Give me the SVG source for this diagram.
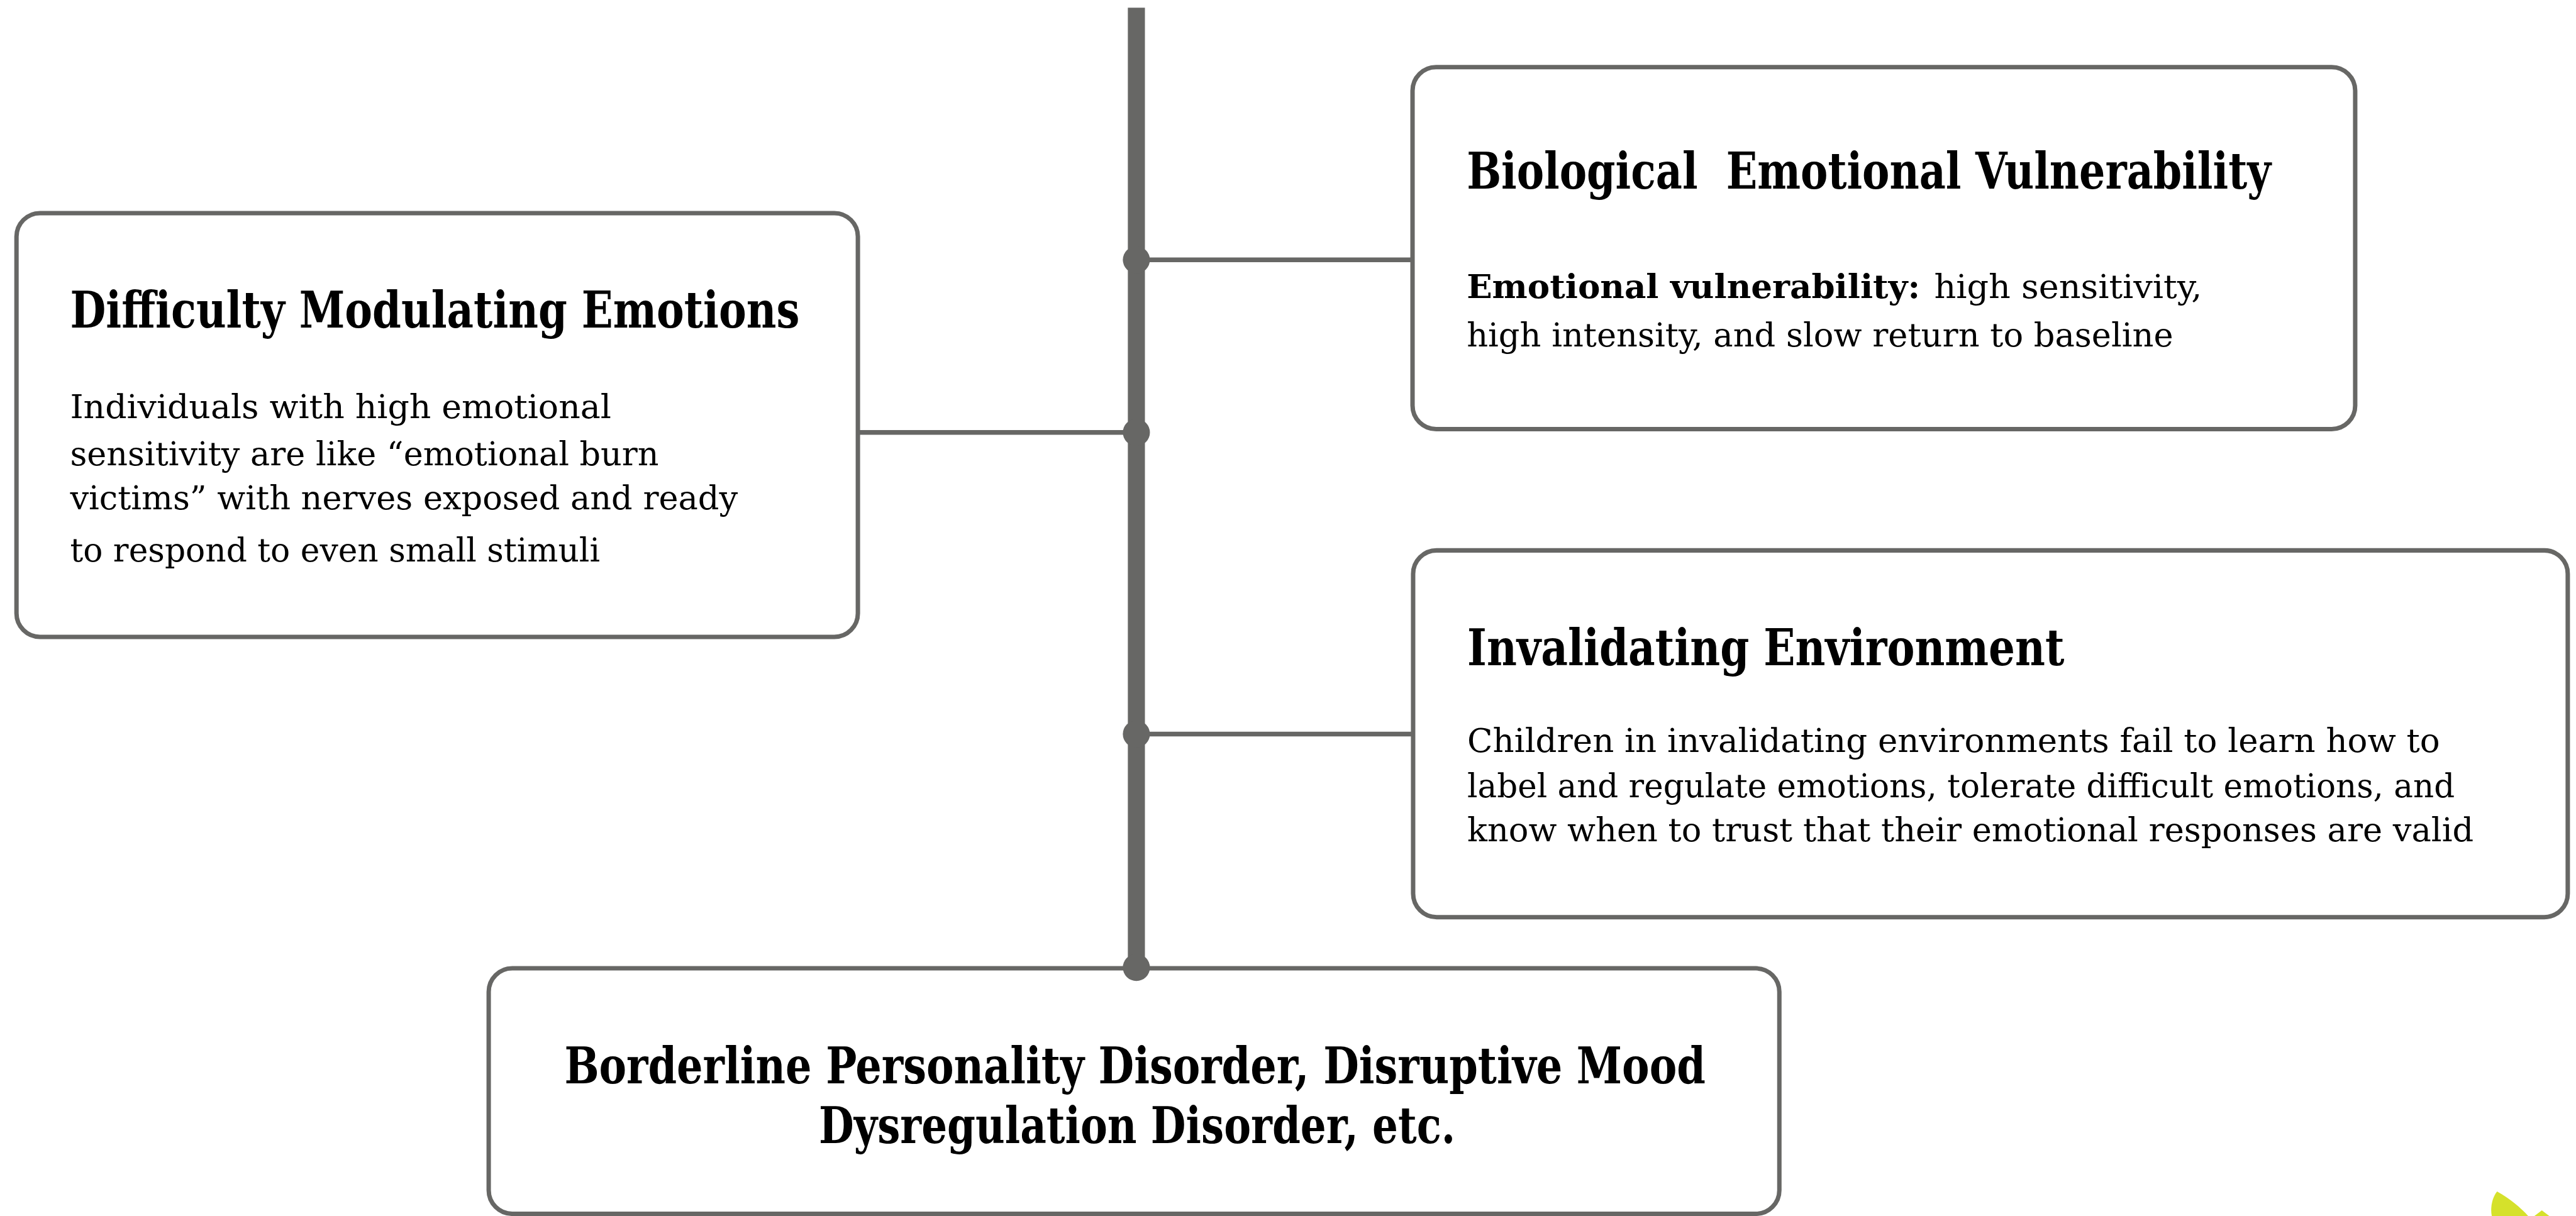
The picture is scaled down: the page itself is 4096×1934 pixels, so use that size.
<svg xmlns="http://www.w3.org/2000/svg" width="4096" height="1934" viewBox="0 0 4096 1934">
<style>
.box{fill:#ffffff;stroke:#676765;stroke-width:7.5}
.ln{stroke:#676765;stroke-width:8;fill:none}
.bar{stroke:#676765;stroke-width:29;fill:none;stroke-linecap:butt}
.dot{fill:#676765}
.t{font-family:"DejaVu Serif","Liberation Serif",serif;font-weight:bold;font-size:85px;font-stretch:condensed;fill:#000000}
.b{font-family:"DejaVu Serif","Liberation Serif",serif;font-size:55px;font-stretch:condensed;fill:#000000}
.bb{font-weight:bold}
.leaf{fill:#d5e12b}
</style>
<rect width="4096" height="1934" fill="#ffffff"/>
<g transform="scale(0.936229)">
<g id="node-difficulty">
<rect class="box" x="28" y="362" width="1429" height="720" rx="40"/>
<text class="t" x="119" y="557" textLength="1239" lengthAdjust="spacingAndGlyphs">Difficulty Modulating Emotions</text>
<text class="b" x="119" y="710.5" textLength="919" lengthAdjust="spacingAndGlyphs">Individuals with high emotional</text>
<text class="b" x="119" y="790" textLength="1000" lengthAdjust="spacingAndGlyphs">sensitivity are like “emotional burn</text>
<text class="b" x="119" y="865" textLength="1134" lengthAdjust="spacingAndGlyphs">victims” with nerves exposed and ready</text>
<text class="b" x="119" y="954" textLength="900" lengthAdjust="spacingAndGlyphs">to respond to even small stimuli</text>
</g>
<g id="node-biological">
<rect class="box" x="2399" y="114" width="1601" height="615" rx="40"/>
<text class="t" x="2491" y="320.5" textLength="1366" lengthAdjust="spacingAndGlyphs" xml:space="preserve">Biological  Emotional Vulnerability</text>
<text class="b bb" x="2491" y="506.5" textLength="770" lengthAdjust="spacingAndGlyphs">Emotional vulnerability:</text>
<text class="b" x="3285" y="506.5" textLength="455" lengthAdjust="spacingAndGlyphs">high sensitivity,</text>
<text class="b" x="2491" y="588.5" textLength="1200" lengthAdjust="spacingAndGlyphs">high intensity, and slow return to baseline</text>
</g>
<g id="node-invalidating">
<rect class="box" x="2400" y="935" width="1961" height="623" rx="40"/>
<text class="t" x="2492" y="1130.5" textLength="1014" lengthAdjust="spacingAndGlyphs">Invalidating Environment</text>
<text class="b" x="2492" y="1277.5" textLength="1652" lengthAdjust="spacingAndGlyphs">Children in invalidating environments fail to learn how to</text>
<text class="b" x="2492" y="1354.5" textLength="1677" lengthAdjust="spacingAndGlyphs">label and regulate emotions, tolerate difficult emotions, and</text>
<text class="b" x="2492" y="1429" textLength="1709" lengthAdjust="spacingAndGlyphs">know when to trust that their emotional responses are valid</text>
</g>
<g id="node-borderline">
<rect class="box" x="830" y="1645" width="2192" height="417" rx="40"/>
<text class="t" x="958.5" y="1840" textLength="1938" lengthAdjust="spacingAndGlyphs">Borderline Personality Disorder, Disruptive Mood</text>
<text class="t" x="1390.8" y="1942" textLength="1081" lengthAdjust="spacingAndGlyphs">Dysregulation Disorder, etc.</text>
</g>
<g id="connectors">
<line class="bar" x1="1930" y1="13" x2="1930" y2="1643"/>
<line class="ln" x1="1930" y1="441.5" x2="2399" y2="441.5"/>
<line class="ln" x1="1457" y1="734.5" x2="1930" y2="734.5"/>
<line class="ln" x1="1930" y1="1247" x2="2400" y2="1247"/>
<circle class="dot" cx="1930" cy="441.5" r="23"/>
<circle class="dot" cx="1930" cy="734.5" r="23"/>
<circle class="dot" cx="1930" cy="1247" r="23"/>
<circle class="dot" cx="1930" cy="1643.5" r="23"/>
</g>
<g id="leaf">
<path class="leaf" d="M4232,2066 C4229,2050 4233,2034 4241,2024 C4262,2036 4281,2051 4294,2066 Z"/>
<path class="leaf" d="M4304,2066 L4317,2056 L4330,2066 Z"/>
</g>
</g>
</svg>
